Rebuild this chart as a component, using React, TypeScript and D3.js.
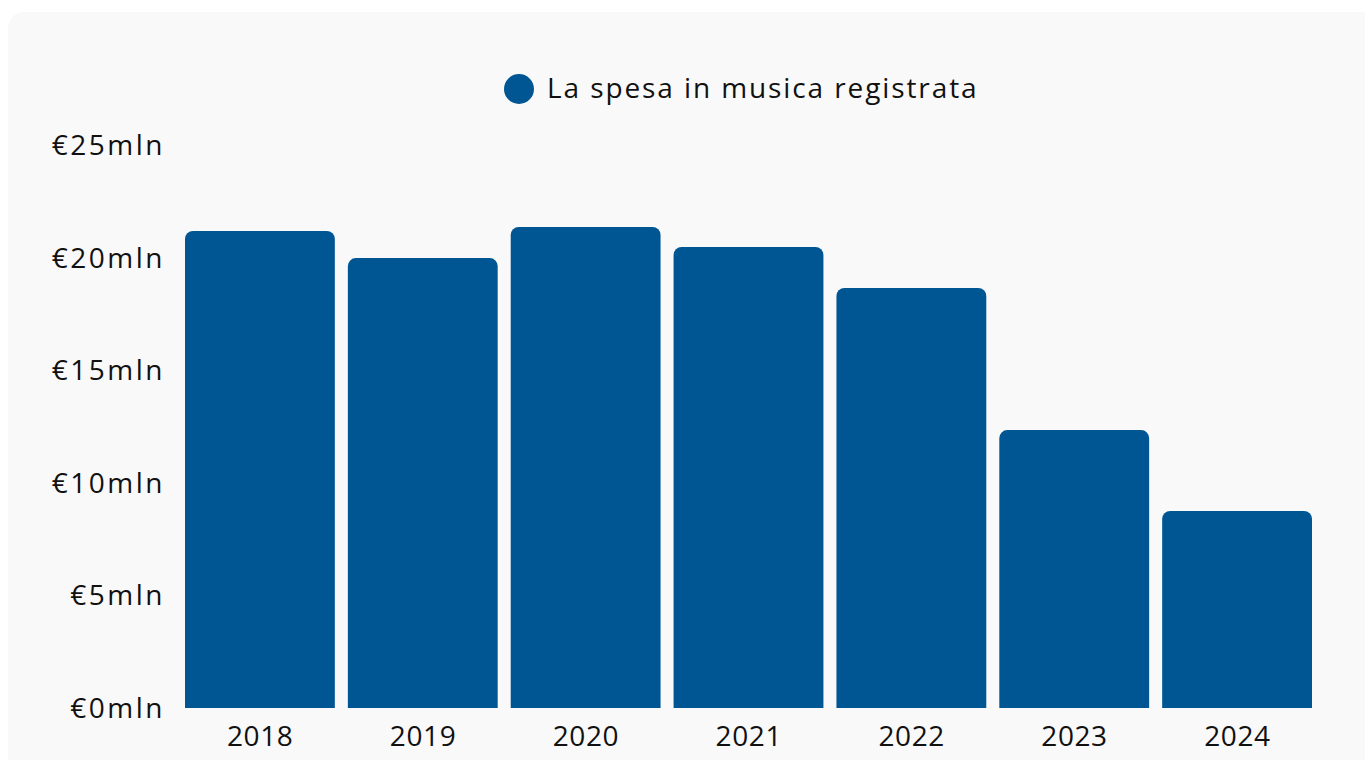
import React from "react";
import * as d3 from "d3";

const years = ["2018", "2019", "2020", "2021", "2022", "2023", "2024"];
const spesa = [21.18, 19.98, 21.36, 20.47, 18.65, 12.34, 8.75];
const yTicks = [0, 5, 10, 15, 20, 25];
const legendLabel = "La spesa in musica registrata";

const W = 1365;
const H = 760;
const BAR = "#005593";
const FONT = "'Open Sans', sans-serif";

function topRoundedRect(x: number, y: number, w: number, h: number, r: number) {
  const rr = Math.min(r, h, w / 2);
  const p = d3.path();
  p.moveTo(x, y + h);
  p.lineTo(x, y + rr);
  p.arcTo(x, y, x + rr, y, rr);
  p.lineTo(x + w - rr, y);
  p.arcTo(x + w, y, x + w, y + rr, rr);
  p.lineTo(x + w, y + h);
  p.closePath();
  return p.toString();
}

export default function App() {
  const x = d3.scaleBand<string>().domain(years).range([185, 1312]).paddingInner(0.08).paddingOuter(0);
  const y = d3.scaleLinear().domain([0, 25]).range([708, 145]);

  return (
    <svg width={W} height={H} style={{ position: "absolute", left: 0, top: 0, display: "block" }}>
      <rect x={8} y={12} width={W + 20} height={H + 20} rx={16} ry={16} fill="#f9f9f9" />
      <g>
        <circle cx={519} cy={89} r={15} fill={BAR} />
        <text x={547} y={98} fontFamily={FONT} fontSize={28} letterSpacing={1.9} fill="#111">{legendLabel}</text>
      </g>
      <g>
        {yTicks.map((t) => (
          <text key={t} x={165} y={y(t) + 10} textAnchor="end" fontFamily={FONT} fontSize={28} letterSpacing={2.5} fill="#111">
            {`€${t}mln`}
          </text>
        ))}
      </g>
      <g>
        {years.map((yr, i) => (
          <path
            key={yr}
            d={topRoundedRect(x(yr)!, y(spesa[i]), x.bandwidth(), y(0) - y(spesa[i]), 8)}
            fill={BAR}
          />
        ))}
      </g>
      <g>
        {years.map((yr) => (
          <text key={yr} x={x(yr)! + x.bandwidth() / 2 + 0.3} y={746} textAnchor="middle" fontFamily={FONT} fontSize={28} letterSpacing={0.6} fill="#111">
            {yr}
          </text>
        ))}
      </g>
    </svg>
  );
}
